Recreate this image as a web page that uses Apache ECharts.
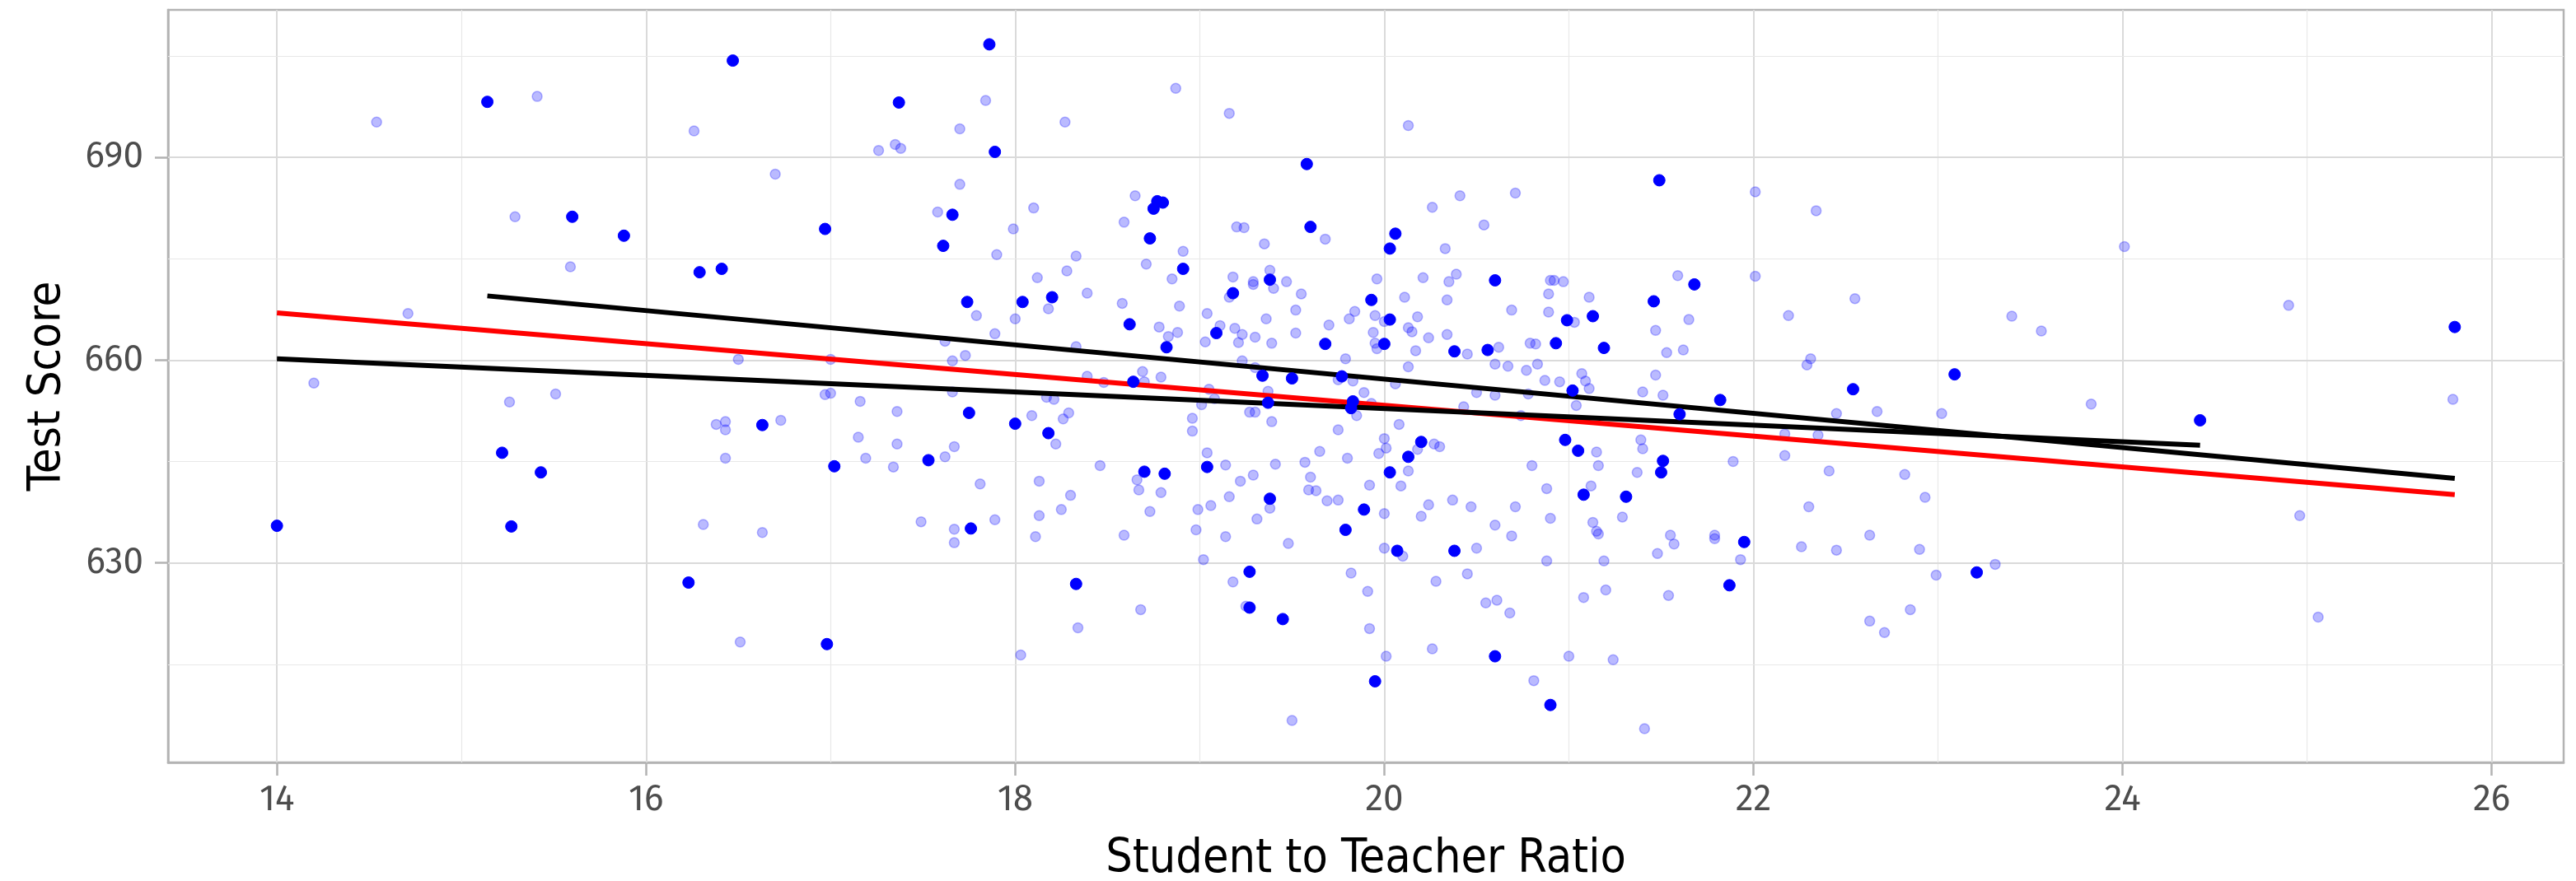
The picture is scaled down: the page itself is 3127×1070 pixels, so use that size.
<!DOCTYPE html>
<html>
<head>
<meta charset="utf-8">
<script src="https://cdn.jsdelivr.net/npm/echarts@6/dist/echarts.min.js"></script>
<style>
  html, body { margin: 0; padding: 0; background: #ffffff; }
  #chart { width: 3127px; height: 1070px; }
</style>
</head>
<body>
<div id="chart"></div>
<script>
// Axis ticks and grid positions
const xTicks = [14, 16, 18, 20, 22, 24, 26];
const xMinor = [15, 17, 19, 21, 23, 25];
const yTicks = [630, 660, 690];
const yMinor = [615, 645, 675, 705];

// All districts: student-teacher ratio and average test score
const ratioAll = [
  14.54,15.41,15.29,15.59,14.71,14.20,15.26,15.51,
  16.26,17.84,17.70,17.26,17.35,17.38,16.70,17.70,17.58,18.10,17.99,17.90,17.79,18.00,17.89,17.62,17.73,17.66,16.50,17.00,
  16.97,17.00,17.16,17.36,17.66,18.09,16.38,16.43,16.43,16.73,17.15,17.36,16.43,17.19,17.34,17.62,17.67,17.81,16.31,16.63,17.49,17.67,17.89,17.67,16.51,18.03,
  18.87,18.27,19.16,18.65,18.59,18.91,19.20,19.24,19.35,19.68,18.33,18.12,18.28,18.71,18.85,18.18,18.39,18.58,18.89,18.78,18.83,18.88,18.33,18.39,18.48,18.69,18.70,18.79,
  19.18,19.29,19.29,19.38,19.40,19.47,19.55,19.16,19.04,19.52,19.36,19.81,19.84,19.11,19.19,19.23,19.21,19.30,19.39,19.03,19.52,19.70,19.79,19.23,19.75,19.83,19.30,19.05,19.08,19.37,
  18.17,18.21,18.29,18.26,18.22,18.96,18.96,19.01,19.27,19.30,19.39,19.85,19.75,19.65,19.80,18.46,18.13,18.66,18.67,18.79,18.30,18.25,18.13,18.11,18.59,18.73,
  19.04,19.14,19.22,19.29,19.41,19.57,19.60,19.59,19.63,19.69,19.75,19.38,19.16,19.06,18.99,18.98,19.31,19.14,19.48,19.02,19.82,19.18,19.25,18.68,18.34,19.50,
  20.13,20.26,20.41,20.71,20.54,20.33,19.96,20.21,20.35,20.39,20.90,20.92,20.97,21.59,21.65,20.11,20.34,19.95,20.00,20.18,20.89,20.89,20.69,21.11,21.03,21.47,
  19.94,20.13,20.15,20.24,20.34,19.95,19.96,20.17,20.45,20.62,20.79,20.82,21.53,21.62,20.13,20.60,20.67,20.77,20.83,20.87,20.95,21.07,21.09,21.47,20.06,
  19.89,20.50,20.60,20.78,21.11,21.04,21.40,21.51,19.93,20.43,20.74,20.08,20.00,20.01,19.97,20.18,20.27,20.30,20.13,19.92,20.09,20.00,20.20,20.24,20.37,20.47,20.60,20.69,20.71,20.80,20.88,20.90,21.15,
  21.16,21.12,21.29,21.13,21.15,21.16,21.39,21.40,21.37,21.55,21.57,21.48,20.88,21.19,20.00,20.10,20.50,19.91,20.28,20.45,20.55,20.61,20.68,21.08,21.20,21.54,19.92,20.01,20.26,21.00,21.24,20.81,21.41,
  22.01,22.34,22.01,22.55,22.19,23.40,23.56,22.31,22.29,
  22.45,22.67,23.02,22.17,22.35,22.17,21.89,22.41,22.82,22.93,22.30,21.79,21.79,21.93,22.26,22.45,22.63,22.90,22.99,23.31,22.85,22.63,22.71,
  24.01,24.90,23.83,25.79,24.96,25.06
];
const scoreAll = [
  695.2,699.0,681.2,673.8,666.9,656.6,653.8,655.0,
  693.9,698.4,694.2,691.0,691.9,691.3,687.5,686.0,681.9,682.5,679.4,675.6,666.6,666.1,663.9,662.8,660.7,659.9,660.1,660.1,
  654.9,655.1,653.9,652.4,655.3,651.8,650.5,650.9,649.7,651.1,648.6,647.6,645.5,645.5,644.2,645.7,647.2,641.7,635.7,634.5,636.1,635.0,636.4,633.0,618.3,616.4,
  700.2,695.2,696.5,684.3,680.4,676.1,679.7,679.6,677.2,677.9,675.4,672.2,673.2,674.2,672.0,667.6,669.9,668.4,668.0,664.9,663.5,664.1,662.0,657.6,656.7,658.3,656.8,657.5,
  672.3,671.6,671.2,673.3,670.6,671.6,669.8,669.3,666.9,667.4,666.1,666.1,667.2,665.1,664.7,663.8,662.6,663.4,662.5,662.7,664.0,665.2,660.2,659.9,657.1,656.9,658.9,655.7,654.3,655.4,
  654.5,654.2,652.2,651.3,647.6,651.4,649.5,653.4,652.3,652.3,650.9,651.8,649.7,646.5,645.5,644.4,642.1,642.3,640.8,640.4,640.0,637.9,637.0,633.9,634.1,637.6,
  646.3,644.5,642.1,643.0,644.6,644.9,642.7,640.8,640.7,639.2,639.3,638.1,639.8,638.5,637.9,634.9,636.5,633.9,632.9,630.5,628.5,627.2,623.6,623.1,620.4,606.7,
  694.7,682.6,684.3,684.7,680.0,676.5,672.0,672.2,671.6,672.7,671.8,671.8,671.6,672.5,666.0,669.3,668.9,666.6,665.7,666.4,669.8,667.1,667.4,669.3,665.6,664.4,
  664.1,664.8,664.2,663.3,663.8,662.5,661.7,661.4,660.9,661.9,662.5,662.4,661.1,661.5,659.0,659.4,659.1,658.5,659.4,657.0,656.8,658.0,656.9,657.8,656.5,
  655.2,655.2,654.8,655.0,655.8,653.3,655.3,654.8,653.6,653.1,651.8,650.5,648.4,647.0,646.2,646.8,647.6,647.2,643.6,641.5,641.4,637.3,636.9,638.6,639.3,638.3,635.6,634.0,638.3,644.4,641.0,636.6,646.4,
  644.4,641.4,636.8,636.0,634.7,634.3,648.2,646.9,643.4,634.1,632.8,631.4,630.3,630.3,632.2,631.0,632.2,625.8,627.3,628.4,624.1,624.5,622.6,624.9,626.0,625.2,620.3,616.2,617.3,616.2,615.7,612.6,605.5,
  684.9,682.1,672.4,669.1,666.6,666.5,664.3,660.2,659.3,
  652.1,652.4,652.1,649.1,648.9,645.9,645.0,643.6,643.1,639.7,638.3,634.1,633.6,630.5,632.4,631.9,634.1,632.0,628.2,629.8,623.1,621.4,619.7,
  676.8,668.1,653.5,654.2,637.0,622.0
];

// Districts drawn in the two subsamples
const ratioSample = [
  15.14,15.60,15.88,
  15.22,15.43,14.00,15.27,
  16.47,17.86,17.37,17.89,17.66,16.97,17.61,16.29,16.41,17.74,18.04,
  17.75,18.00,16.63,17.02,17.53,17.76,16.23,16.98,
  19.58,18.77,18.80,18.75,18.73,19.60,18.91,18.20,18.62,18.82,18.64,19.38,19.18,19.09,19.68,19.34,19.50,19.77,
  19.37,19.83,19.82,18.18,18.70,18.81,19.04,19.38,19.79,19.89,19.27,19.27,19.45,18.33,
  21.49,20.06,20.03,20.60,19.93,20.03,21.46,20.99,21.13,20.00,20.38,20.56,20.93,21.19,21.02,
  21.60,20.20,20.13,20.03,20.98,21.05,21.08,21.31,21.51,21.50,20.07,20.38,20.60,19.95,20.90,
  21.68,23.09,22.54,
  21.82,21.95,21.87,23.21,
  25.80,24.42
];
const scoreSample = [
  698.2,681.2,678.4,
  646.3,643.4,635.5,635.4,
  704.3,706.7,698.1,690.8,681.5,679.4,676.9,673.0,673.5,668.6,668.6,
  652.2,650.6,650.4,644.3,645.2,635.1,627.1,618.0,
  689.0,683.5,683.3,682.4,678.0,679.7,673.5,669.3,665.3,661.9,656.8,671.9,669.9,664.0,662.4,657.7,657.3,657.6,
  653.7,653.9,652.9,649.2,643.5,643.2,644.2,639.5,634.9,637.9,628.7,623.4,621.7,626.9,
  686.6,678.7,676.5,671.8,668.9,666.0,668.7,665.9,666.5,662.4,661.3,661.5,662.5,661.8,655.5,
  652.0,647.9,645.7,643.4,648.2,646.6,640.1,639.8,645.1,643.4,631.8,631.8,616.2,612.5,609.0,
  671.2,657.9,655.7,
  654.1,633.1,626.7,628.6,
  664.9,651.1
];

// Fitted regression lines (endpoints at each sample's ratio range)
const fitAllRatio = [14.0, 25.8];
const fitAllScore = [667.0, 640.1];
const fitARatio = [15.14, 25.8];
const fitAScore = [669.5, 642.5];
const fitBRatio = [14.0, 24.42];
const fitBScore = [660.2, 647.4];

const zip = (xs, ys) => xs.map((x, i) => [x, ys[i]]);

const tickFont = 'Fira Sans, "Noto Sans", "Open Sans", sans-serif';
const titleFont = '"Liberation Sans Narrow", "DejaVu Sans Condensed", "Roboto", sans-serif';

const majorStyle = { color: '#dadada', width: 2, type: 'solid' };
const minorStyle = { color: '#e8e8e8', width: 1.2, type: 'solid' };
const gridLines = [
  ...xTicks.map(v => ({ xAxis: v, lineStyle: majorStyle })),
  ...xMinor.map(v => ({ xAxis: v, lineStyle: minorStyle })),
  ...yTicks.map(v => ({ yAxis: v, lineStyle: majorStyle })),
  ...yMinor.map(v => ({ yAxis: v, lineStyle: minorStyle }))
];

const axisGrey = '#b3b3b3';

const chart = echarts.init(document.getElementById('chart'), null, { renderer: 'canvas' });
chart.setOption({
  animation: false,
  backgroundColor: '#ffffff',
  grid: {
    left: 204, top: 12, width: 2908, height: 914,
    containLabel: false, outerBoundsMode: 'none',
    show: true, borderColor: axisGrey, borderWidth: 2.5, backgroundColor: 'transparent'
  },
  xAxis: {
    type: 'value', min: 13.41, max: 26.39,
    axisLine: { show: true, lineStyle: { color: axisGrey, width: 2.5 } },
    axisTick: { show: true, customValues: xTicks, length: 16, lineStyle: { color: axisGrey, width: 2.5 } },
    axisLabel: { customValues: xTicks, fontSize: 44, color: '#4d4d4d', fontFamily: tickFont, margin: 24 },
    splitLine: { show: false },
    name: 'Student to Teacher Ratio', nameLocation: 'middle', nameGap: 90,
    nameTextStyle: { fontSize: 57, color: '#000000', fontFamily: titleFont }
  },
  yAxis: {
    type: 'value', min: 600.5, max: 711.8,
    axisLine: { show: true, lineStyle: { color: axisGrey, width: 2.5 } },
    axisTick: { show: true, customValues: yTicks, length: 16, lineStyle: { color: axisGrey, width: 2.5 } },
    axisLabel: { customValues: yTicks, fontSize: 44, color: '#4d4d4d', fontFamily: tickFont, margin: 30 },
    splitLine: { show: false },
    name: 'Test Score', nameLocation: 'middle', nameGap: 119, nameRotate: 90,
    nameTextStyle: { fontSize: 56, color: '#000000', fontFamily: titleFont }
  },
  series: [
    {
      type: 'scatter', data: [], z: 1, silent: true,
      markLine: { silent: true, symbol: 'none', z: 1, label: { show: false }, animation: false, data: gridLines }
    },
    {
      name: 'All districts', type: 'scatter', z: 3, silent: true,
      data: zip(ratioAll, scoreAll).concat(zip(ratioSample, scoreSample)),
      symbolSize: 12,
      itemStyle: { color: 'rgba(0,0,255,0.27)', borderColor: 'rgba(0,0,255,0.27)', borderWidth: 1.5, opacity: 1 }
    },
    {
      name: 'Fit: all', type: 'line', z: 4, silent: true, symbol: 'none',
      data: zip(fitAllRatio, fitAllScore), lineStyle: { color: '#ff0000', width: 6 }
    },
    {
      name: 'Fit: sample A', type: 'line', z: 4, silent: true, symbol: 'none',
      data: zip(fitARatio, fitAScore), lineStyle: { color: '#000000', width: 6 }
    },
    {
      name: 'Fit: sample B', type: 'line', z: 4, silent: true, symbol: 'none',
      data: zip(fitBRatio, fitBScore), lineStyle: { color: '#000000', width: 6 }
    },
    {
      name: 'Sampled districts', type: 'scatter', z: 5, silent: true,
      data: zip(ratioSample, scoreSample),
      symbolSize: 14,
      itemStyle: { color: '#0000ff', borderColor: '#0000ff', borderWidth: 1, opacity: 1 }
    }
  ]
});
</script>
</body>
</html>
